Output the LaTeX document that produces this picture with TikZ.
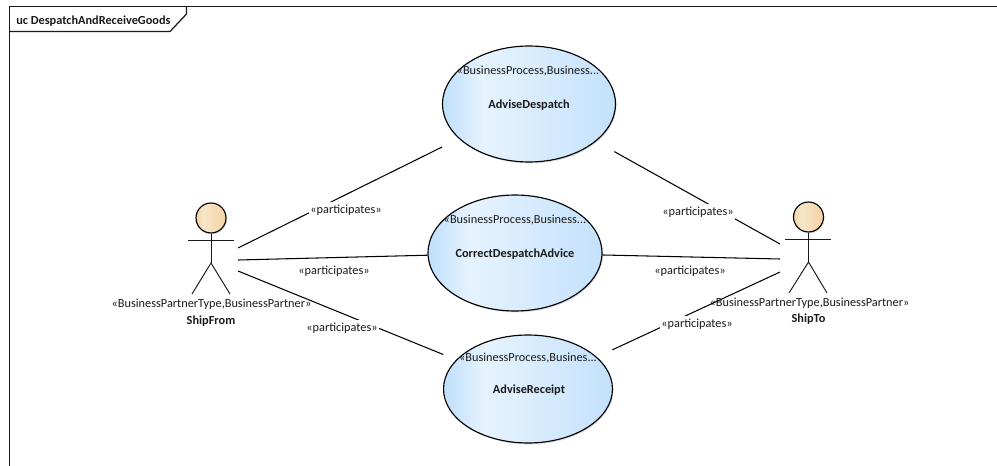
\documentclass[tikz,border=0pt]{standalone}
\usepackage{fontspec}
\setmainfont{Carlito}
\usetikzlibrary{shapes.geometric,shadows}
\definecolor{ucleft}{HTML}{BFDFFC}
\definecolor{uclight}{HTML}{E6F3FE}
\definecolor{ucright}{HTML}{C4E1FC}
\definecolor{headleft}{HTML}{F3D3A2}
\definecolor{headlight}{HTML}{F8E6CB}
\definecolor{headright}{HTML}{F3D2A0}
\definecolor{inkline}{HTML}{1A1A1A}
\pgfdeclarehorizontalshading{usecasefill}{100bp}{color(0bp)=(ucleft); color(25bp)=(ucleft); color(37bp)=(uclight); color(75bp)=(ucright); color(100bp)=(ucright)}
\pgfdeclarehorizontalshading{headfill}{100bp}{color(0bp)=(headleft); color(25bp)=(headleft); color(37bp)=(headlight); color(75bp)=(headright); color(100bp)=(headright)}
\tikzset{
  smalltext/.style={font=\fontsize{7}{8.5}\selectfont,inner sep=0pt,text=inkline,yshift=-0.7pt},
  boldtext/.style={smalltext,font=\fontsize{7}{8.5}\selectfont\bfseries},
  usecase/.style={ellipse,draw=black,line width=0.65pt,shading=usecasefill,minimum height=2.32cm,
    drop shadow={shadow xshift=0.6pt,shadow yshift=-0.8pt,opacity=0.25,fill=gray}},
  head/.style={circle,draw=black,line width=0.65pt,shading=headfill,minimum size=0.6cm,inner sep=0pt,
    drop shadow={shadow xshift=0.6pt,shadow yshift=-0.8pt,opacity=0.25,fill=gray}},
  limb/.style={draw=inkline,line width=0.55pt},
  assoc/.style={draw=black,line width=0.6pt},
  assoclabel/.style={smalltext,fill=white,inner xsep=1pt,inner ysep=1.5pt}
}
\begin{document}
\begin{tikzpicture}[x=0.02cm,y=0.02cm]
\useasboundingbox (0,0) rectangle (997,-466);
% frame
\draw [inkline,line width=0.7pt] (997,-6.5) -- (9.5,-6.5) -- (9.5,-466);
\draw [inkline,line width=0.7pt] (186.5,-6.5) -- (186.5,-14) -- (170,-31.5) -- (9.5,-31.5);
\node [boldtext,anchor=west] (framelabel) at (16,-19.5) {uc DespatchAndReceiveGoods};
% use cases
\node [usecase,minimum width=3.46cm] (adviseDespatch) at (529,-104) {};
\node [usecase,minimum width=3.48cm] (correctAdvice) at (515,-253) {};
\node [usecase,minimum width=3.38cm,minimum height=2.16cm] (adviseReceipt) at (528,-389) {};
\node [smalltext] (despatchType) at (528,-70) {«BusinessProcess,Business...};
\node [boldtext] (despatchName) at (529,-104) {AdviseDespatch};
\node [smalltext] (correctType) at (515,-219) {«BusinessProcess,Business...};
\node [boldtext] (correctName) at (515,-253) {CorrectDespatchAdvice};
\node [smalltext] (receiptType) at (528,-357) {«BusinessProcess,Busines...};
\node [boldtext] (receiptName) at (529,-389) {AdviseReceipt};
% ShipFrom
\node [head] (fromHead) at (211,-218) {};
\coordinate (fromHip) at (211,-263);
\draw [limb] (fromHead) -- (fromHip);
\draw [limb] (188,-240) -- (234,-240);
\draw [limb] (192,-294) -- (fromHip) -- (230,-294);
\node [smalltext] (fromType) at (211.5,-303) {«BusinessPartnerType,BusinessPartner»};
\node [boldtext] (fromName) at (211,-320) {ShipFrom};
% ShipTo
\node [head] (toHead) at (808.5,-217) {};
\coordinate (toHip) at (808.5,-262);
\draw [limb] (toHead) -- (toHip);
\draw [limb] (785,-239) -- (831,-239);
\draw [limb] (789,-293) -- (toHip) -- (827,-293);
\node [boldtext] (toName) at (808.5,-318) {ShipTo};
% connector ends beside the actors
\coordinate (fromA) at (238,-248);
\coordinate (fromB) at (238,-260);
\coordinate (fromC) at (238,-271);
\coordinate (toA) at (780,-244);
\coordinate (toB) at (780,-259);
\coordinate (toC) at (780,-272);
\draw [assoc,shorten >=0.376cm] (fromA) -- (adviseDespatch);
\draw [assoc] (fromB) -- (correctAdvice);
\draw [assoc,shorten >=0.28cm] (fromC) -- (adviseReceipt);
\draw [assoc,shorten >=0.42cm] (toA) -- (adviseDespatch);
\draw [assoc] (toB) -- (correctAdvice);
\draw [assoc,shorten >=0.34cm] (toC) -- (adviseReceipt);
\node [assoclabel] (labelFromA) at (346,-209) {«participates»};
\node [smalltext] (labelFromB) at (334,-270) {«participates»};
\node [assoclabel] (labelFromC) at (342,-327) {«participates»};
\node [assoclabel] (labelToA) at (698,-211) {«participates»};
\node [smalltext] (labelToB) at (690,-270) {«participates»};
\node [assoclabel] (labelToC) at (697,-323) {«participates»};
\node [smalltext] (toType) at (809.5,-302) {«BusinessPartnerType,BusinessPartner»};
\end{tikzpicture}
\end{document}
